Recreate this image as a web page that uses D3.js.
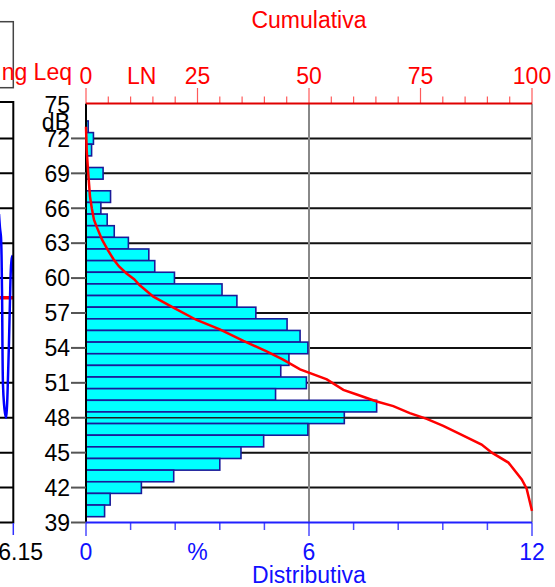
<!DOCTYPE html>
<html><head><meta charset="utf-8">
<script src="https://cdn.jsdelivr.net/npm/d3@7"></script>
<style>body{margin:0;background:#fff}svg{display:block}text{font-family:"Liberation Sans",Arial,sans-serif}</style>
</head><body><script>
// Level classes (dB) and distribution (%)
const levels = [73,72,71,70,69,68,67,66,65,64,63,62,61,60,59,58,57,56,55,54,53,52,51,50,49,48,47,46,45,44,43,42,41,40];
const distribution = [0.06,0.20,0.15,0.02,0.46,0,0.66,0.40,0.57,0.76,1.14,1.69,1.85,2.38,3.66,4.06,4.57,5.41,5.76,5.97,5.46,5.24,5.93,5.10,7.82,6.95,5.97,4.78,4.17,3.60,2.36,1.49,0.65,0.50];
// Cumulative curve (LN)
const cumLevels = [73.0,71.0,69.0,67.0,66.0,65.0,64.4,63.3,62.4,61.6,61.0,60.4,59.9,59.4,58.4,57.4,56.4,55.6,54.6,53.7,53.0,52.15,51.3,50.4,50.0,49.4,49.0,48.4,47.9,47.3,46.6,45.7,45.0,44.15,42.7,41.9,40.0];
const cumPercent = [0,0.15,0.5,0.9,1.3,1.8,2.4,3.6,4.9,6.2,7.4,9.1,10.8,12.0,15.1,19.9,24.8,30.0,35.3,40.5,44.2,48.0,54.0,57.7,60.7,65.2,68.9,72.6,76.4,80.1,83.9,88.7,91.0,94.7,97.7,98.8,100];
// Tick labels
const yTickLabels = [72,69,66,63,60,57,54,51,48,45,42,39];
const gridLevels = [72,69,66,63,60,57,54,51,48,45,42];
const topTickLabels = [0,25,50,75,100];
const bottomTickLabels = [0,6,12];
// Partial time-history panel on the left
const historyLevels = [65.5,64.3,63.5,59.0,50.8,49.2,48.4,48.0,49.0,51.5,54.5,58.2,61.0,61.9,61.2,58.5];
const runningLeq = 58.3;
const timeLabel = "6.15";

const W = 555, H = 587;
const svg = d3.select("body").append("svg").attr("width", W).attr("height", H);

const y = d3.scaleLinear().domain([39, 75]).range([522.5, 103.5]);
const xd = d3.scaleLinear().domain([0, 12]).range([86, 532]);
const xc = d3.scaleLinear().domain([0, 100]).range([86, 532]);
const FS = 23;

// ---------- left partial panel ----------
const xt = d3.scaleLinear().domain([0, historyLevels.length - 1]).range([-1, 14]);
const defs = svg.append("defs");
defs.append("clipPath").attr("id", "lp").append("rect")
  .attr("x", 0).attr("y", y(75)).attr("width", 13.3).attr("height", y(39) - y(75));
const lp = svg.append("g");
lp.append("rect").attr("x", -20).attr("y", 21.7).attr("width", 33.3).attr("height", 66)
  .attr("fill", "#fff").attr("stroke", "#444").attr("stroke-width", 1.5);
lp.append("text").attr("x", 72).attr("y", 80).attr("text-anchor", "end")
  .attr("font-size", FS).attr("fill", "#ff0000").text("ng Leq");
const lpc = lp.append("g").attr("clip-path", "url(#lp)");
lpc.selectAll("line.g").data(gridLevels).join("line")
  .attr("x1", 0).attr("x2", 13.3).attr("y1", d => y(d)).attr("y2", d => y(d))
  .attr("stroke", "#000").attr("stroke-width", 2);
lpc.append("line").attr("x1", 0).attr("x2", 13.3).attr("y1", y(runningLeq)).attr("y2", y(runningLeq))
  .attr("stroke", "#ff0000").attr("stroke-width", 3.5);
lpc.append("path").datum(historyLevels)
  .attr("d", d3.line().x((d, i) => xt(i)).y(d => y(d)).curve(d3.curveCatmullRom))
  .attr("fill", "none").attr("stroke", "#0000ff").attr("stroke-width", 2.5);
lp.append("rect").attr("x", -20).attr("y", y(75) - 1.5).attr("width", 33.3).attr("height", y(39) - y(75) + 1.5)
  .attr("fill", "none").attr("stroke", "#000").attr("stroke-width", 2);
lp.append("line").attr("x1", 13.3).attr("x2", 13.3).attr("y1", 523).attr("y2", 535)
  .attr("stroke", "#3030ff").attr("stroke-width", 1.5);
lp.append("text").attr("x", 43).attr("y", 560).attr("text-anchor", "end")
  .attr("font-size", FS).attr("fill", "#000").text(timeLabel);

// ---------- main panel ----------
const g = svg.append("g");
g.selectAll("line.hg").data(gridLevels).join("line").attr("class", "hg")
  .attr("x1", xd(0)).attr("x2", xd(12)).attr("y1", d => y(d)).attr("y2", d => y(d))
  .attr("stroke", "#111").attr("stroke-width", 2);
g.append("line").attr("x1", xd(6)).attr("x2", xd(6)).attr("y1", y(75)).attr("y2", y(39))
  .attr("stroke", "#888").attr("stroke-width", 2);
g.append("line").attr("x1", xd(12)).attr("x2", xd(12)).attr("y1", y(75)).attr("y2", y(39))
  .attr("stroke", "#999").attr("stroke-width", 2);

const barData = levels.map((l, i) => ({ l, v: distribution[i] }));
g.selectAll("rect.bar").data(barData.filter(d => d.v > 0)).join("rect").attr("class", "bar")
  .attr("x", xd(0)).attr("y", d => y(d.l + 0.5))
  .attr("width", d => xd(d.v) - xd(0)).attr("height", d => y(d.l - 0.5) - y(d.l + 0.5))
  .attr("fill", "#00ffff").attr("stroke", "#1a1a99").attr("stroke-width", 1.6);
g.append("line").attr("x1", xd(0)).attr("x2", xd(12)).attr("y1", y(48)).attr("y2", y(48))
  .attr("stroke", "#222").attr("stroke-width", 1.6);

g.append("line").attr("x1", 86).attr("x2", 86).attr("y1", y(75)).attr("y2", y(39))
  .attr("stroke", "#000").attr("stroke-width", 2);
g.selectAll("line.yt").data(yTickLabels).join("line").attr("class", "yt")
  .attr("x1", 71).attr("x2", 86).attr("y1", d => y(d)).attr("y2", d => y(d))
  .attr("stroke", "#555").attr("stroke-width", 2);
g.selectAll("text.yl").data(yTickLabels).join("text").attr("class", "yl")
  .attr("x", 70).attr("y", d => y(d) + 8.3).attr("text-anchor", "end")
  .attr("font-size", FS).attr("fill", "#000").text(d => d);
g.append("text").attr("x", 70).attr("y", 113).attr("text-anchor", "end")
  .attr("font-size", FS).attr("fill", "#000").text("75");
g.append("text").attr("x", 70).attr("y", 130).attr("text-anchor", "end")
  .attr("font-size", FS).attr("fill", "#000").text("dB");

g.append("path").datum(cumLevels.map((l, i) => [l, cumPercent[i]]))
  .attr("d", d3.line().x(d => xc(d[1])).y(d => y(d[0])))
  .attr("fill", "none").attr("stroke", "#ff0000").attr("stroke-width", 2.5);

// top (cumulative) axis
const topAxis = svg.append("g");
topAxis.selectAll("line.tm").data(d3.range(0, 101, 5)).join("line")
  .attr("x1", d => xc(d)).attr("x2", d => xc(d))
  .attr("y1", d => topTickLabels.includes(d) ? 88 : 96.5).attr("y2", y(75))
  .attr("stroke", "#ff5a5a").attr("stroke-width", 1.2);
topAxis.append("line").attr("x1", xc(0)).attr("x2", xc(100)).attr("y1", y(75)).attr("y2", y(75))
  .attr("stroke", "#e00000").attr("stroke-width", 2);
topAxis.selectAll("text.tl").data(topTickLabels).join("text")
  .attr("x", d => xc(d)).attr("y", 84).attr("text-anchor", "middle")
  .attr("font-size", FS).attr("fill", "#ff0000").text(d => d);
topAxis.append("text").attr("x", xc(12.5)).attr("y", 84).attr("text-anchor", "middle")
  .attr("font-size", FS).attr("fill", "#ff0000").text("LN");
topAxis.append("text").attr("x", xc(50)).attr("y", 28).attr("text-anchor", "middle")
  .attr("font-size", FS).attr("fill", "#ff0000").text("Cumulativa");

// bottom (distribution) axis
const botAxis = svg.append("g");
botAxis.selectAll("line.bm").data(d3.range(0, 11).map(i => i * 1.2)).join("line")
  .attr("x1", d => xd(d)).attr("x2", d => xd(d))
  .attr("y1", y(39)).attr("y2", d => bottomTickLabels.some(b => Math.abs(b - d) < 1e-6) ? 536 : 530)
  .attr("stroke", "#4a4aff").attr("stroke-width", 1.5);
botAxis.append("line").attr("x1", xd(0)).attr("x2", xd(12)).attr("y1", y(39)).attr("y2", y(39))
  .attr("stroke", "#2020ff").attr("stroke-width", 2);
botAxis.selectAll("text.bl").data(bottomTickLabels).join("text")
  .attr("x", d => xd(d)).attr("y", 560).attr("text-anchor", "middle")
  .attr("font-size", FS).attr("fill", "#1010ff").text(d => d);
botAxis.append("text").attr("x", xd(3)).attr("y", 560).attr("text-anchor", "middle")
  .attr("font-size", FS).attr("fill", "#1010ff").text("%");
botAxis.append("text").attr("x", xd(6)).attr("y", 583).attr("text-anchor", "middle")
  .attr("font-size", FS).attr("fill", "#1010ff").text("Distributiva");
</script></body></html>
